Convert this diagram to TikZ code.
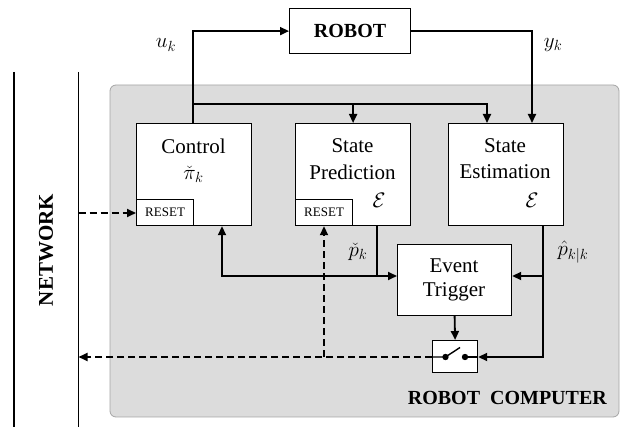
\documentclass[tikz,border=0pt]{standalone}
\usepackage{fix-cm}
\usepackage{amsmath}
\usepackage{fontspec}
\setmainfont{Liberation Serif}
\usetikzlibrary{arrows.meta}
\definecolor{panelgray}{RGB}{220,220,220}
\definecolor{panelborder}{RGB}{165,165,165}
\tikzset{
  blk/.style={draw=black,line width=1.2pt,fill=white,inner sep=0pt,anchor=north west},
  txt/.style={inner sep=0pt,font=\fontsize{21}{25}\selectfont},
  boldtxt/.style={inner sep=0pt,font=\fontsize{20}{24}\selectfont\bfseries},
  smalltxt/.style={inner sep=0pt,font=\fontsize{13}{15}\selectfont},
  conn/.style={line width=1.8pt,-{Triangle[length=9pt,width=8pt]}},
  dconn/.style={line width=1.8pt,dash pattern=on 7pt off 4pt,-{Triangle[length=9pt,width=8pt]}},
  netline/.style={line width=1.2pt}
}
\begin{document}
\begin{tikzpicture}[x=1pt,y=-1pt]
\useasboundingbox (0,0) rectangle (624,427);
% network lines
\draw[netline] (14,72) coordinate (nl1) -- (14,427);
\draw[netline] (78.5,72) coordinate (nl2) -- (78.5,427);
\node[boldtxt,font=\fontsize{21}{25}\selectfont\bfseries,rotate=90] (net) at (46,250) {NETWORK};
% robot computer panel
\draw[draw=panelborder,fill=panelgray,line width=0.8pt,rounded corners=6pt] (110,85) rectangle (619,417);
\node[boldtxt,anchor=east] (rc) at (607,398) {ROBOT\ \ COMPUTER};
% robot
\node[blk,minimum width=121pt,minimum height=45pt] (robot) at (289,8) {};
\node[boldtxt] (robottxt) at (robot.center) {ROBOT};
% blocks
\node[blk,minimum width=115pt,minimum height=102pt] (ctrl) at (136,123) {};
\node[blk,minimum width=115pt,minimum height=102pt] (sp) at (295,123) {};
\node[blk,minimum width=115pt,minimum height=102pt] (se) at (447.5,123) {};
\node[blk,minimum width=57pt,minimum height=26pt] (ctrlreset) at (136,199) {};
\node[blk,minimum width=57pt,minimum height=26pt] (spreset) at (295,199) {};
\node[smalltxt] (ctrlresettxt) at (ctrlreset.center) {RESET};
\node[smalltxt] (spresettxt) at (spreset.center) {RESET};
\node[txt] (ctrlA) at (193.5,146) {Control};
\node[txt] (ctrlB) at (193.5,174) {$\check{\pi}_k$};
\node[txt] (spA) at (352.5,146) {State};
\node[txt] (spB) at (352.5,172) {Prediction};
\node[txt] (spC) at (379,200) {$\mathcal{E}$};
\node[txt] (seA) at (505,146) {State};
\node[txt] (seB) at (505,172) {Estimation};
\node[txt] (seC) at (532,200) {$\mathcal{E}$};
% event trigger
\node[blk,minimum width=114pt,minimum height=71pt] (et) at (397,244) {};
\node[txt] (etA) at (454,266) {Event};
\node[txt] (etB) at (454,292) {Trigger};
% switch
\node[blk,minimum width=45pt,minimum height=32pt] (sw) at (432,340) {};
\coordinate (swl) at (445.5,357);
\coordinate (swr) at (465,357);
\draw[line width=1.4pt] (sw.west |- swl) -- (swl) -- (460,347.5);
\draw[line width=1.4pt] (swr) -- (sw.east |- swr);
\fill (swl) circle (3.2pt);
\fill (swr) circle (3.2pt);
% labels
\node[txt] (uk) at (166,45) {$u_k$};
\node[txt] (yk) at (553,45) {$y_k$};
\node[txt] (pk) at (358,252) {$\check{p}_k$};
\node[txt] (pkk) at (573,252) {$\hat{p}_{k|k}$};
% connectors
\coordinate (cx) at (193,0);
\draw[conn] (ctrl.north -| cx) |- (robot.west);
\coordinate (rx) at (532,0);
\draw[conn] (robot.east) -| (se.north -| rx);
\coordinate (bus) at (193,104);
\coordinate (busr) at (487,104);
\draw[conn] (bus) -- (busr) -- (se.north -| busr);
\draw[conn] (sp.north |- bus) -- (sp.north);
\coordinate (px) at (377,276);
\coordinate (lx) at (222,276);
\draw[conn] (sp.south -| px) |- (et.west |- px);
\draw[conn] (px) -- (lx) -- (ctrl.south -| lx);
\coordinate (hx) at (543,276);
\coordinate (hy) at (543,357);
\draw[conn] (se.south -| hx) |- (et.east |- hx);
\draw[conn] (hx) -- (hy) -- (sw.east |- hy);
\draw[conn] (et.south) -- (sw.north);
% dashed network connectors
\coordinate (dn) at (78.5,357);
\coordinate (dv) at (324,357);
\draw[dconn] (sw.west |- swl) -- (dn);
\draw[dconn] (dv) -- (spreset.south -| dv);
\coordinate (din) at (78.5,213);
\draw[dconn] (din) -- (ctrlreset.west |- din);
\end{tikzpicture}
\end{document}
